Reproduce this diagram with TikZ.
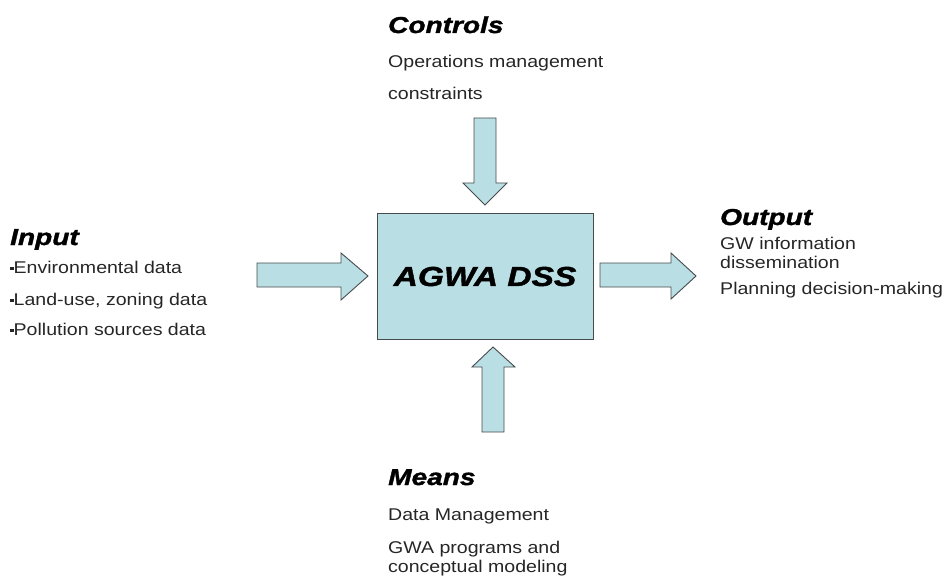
\documentclass[tikz,border=0pt]{standalone}
\usepackage{fontspec}
\setmainfont{Liberation Sans}[FakeStretch=1.15]
\newfontfamily\headfont{Liberation Sans}[FakeStretch=1.22, FakeBold=1.5]
\usetikzlibrary{positioning}
\definecolor{boxblue}{RGB}{185,222,227}
\definecolor{edgegray}{RGB}{70,75,78}
\newcommand{\sqbullet}{\raisebox{3pt}{\rule{3.5pt}{3.5pt}}}

\begin{document}
\begin{tikzpicture}[x=1pt, y=-1pt,
    every node/.style={inner sep=0pt, anchor=base west},
    head/.style={font=\headfont\fontsize{23}{26}\selectfont\bfseries\itshape},
    item/.style={font=\fontsize{17}{20}\selectfont, text=black!85},
    dssbox/.style={draw=edgegray, fill=boxblue, line width=1pt,
                   minimum width=216pt, minimum height=125pt, anchor=center},
    blockarrow/.style={draw=edgegray, fill=boxblue, line width=0.9pt}
]
\useasboundingbox (0,0) rectangle (952,577);

% centre box
\node[dssbox, font=\headfont\fontsize{27.5}{30}\selectfont\bfseries\itshape] (dss) at (485,276.5) {AGWA DSS};

% controls
\node[head] (ctrl) at (388,33) {Controls};
\node[item] (ctrl1) at (388,68) {Operations management};
\node[item] (ctrl2) at (388,100) {constraints};
\draw[blockarrow] (474,118) -- (496,118) -- (496,183) -- (507,183) -- (485,205)
    -- (463,183) -- (474,183) -- cycle;

% input
\node[head] (inp) at (10,245) {Input};
\node[item] (inp1) at (10,273) {\sqbullet Environmental data};
\node[item] (inp2) at (10,305) {\sqbullet Land-use, zoning data};
\node[item] (inp3) at (10,335) {\sqbullet Pollution sources data};
\draw[blockarrow] (257,263) -- (341,263) -- (341,253) -- (368,276) -- (341,300)
    -- (341,287) -- (257,287) -- cycle;

% output
\node[head] (outp) at (720,225) {Output};
\node[item] (out1) at (720,249) {GW information};
\node[item] (out2) at (720,268) {dissemination};
\node[item] (out3) at (720,294) {Planning decision-making};
\draw[blockarrow] (600,263) -- (671,263) -- (671,253) -- (696,276) -- (671,299)
    -- (671,287) -- (600,287) -- cycle;

% means
\draw[blockarrow] (482,432) -- (504,432) -- (504,367) -- (515,367) -- (493,347)
    -- (472,367) -- (482,367) -- cycle;
\node[head] (means) at (388,485) {Means};
\node[item] (means1) at (388,520) {Data Management};
\node[item] (means2) at (388,553) {GWA programs and};
\node[item] (means3) at (388,572) {conceptual modeling};
\end{tikzpicture}
\end{document}
